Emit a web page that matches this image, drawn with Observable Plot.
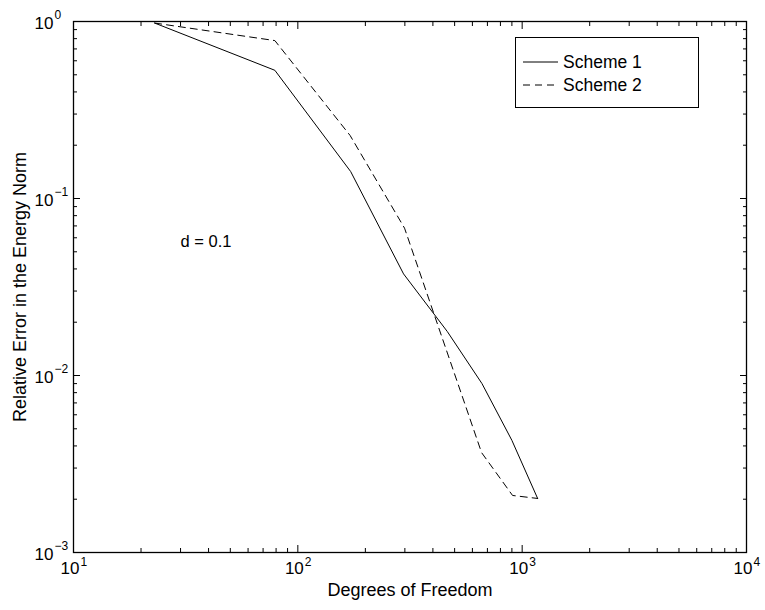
<!DOCTYPE html>
<html>
<head>
<meta charset="utf-8">
<script src="https://cdn.jsdelivr.net/npm/d3@7"></script>
<script src="https://cdn.jsdelivr.net/npm/@observablehq/plot@0.6"></script>
<style>
  html, body { margin: 0; padding: 0; background: #fff; }
  #wrap { position: relative; width: 765px; height: 610px; font-family: "Liberation Sans", Arial, Helvetica, sans-serif; }
  #legend {
    position: absolute; left: 515px; top: 37px; width: 182px; height: 69px;
    border: 1px solid #000; background: #fff; font-size: 17.5px; color: #000;
  }
  #legend .row { position: absolute; left: 7px; height: 20px; display: flex; align-items: center; }
  #legend .row span { margin-left: 5px; }
</style>
</head>
<body>
<div id="wrap"></div>
<script>
// Convergence of the relative energy-norm error against degrees of freedom
const schemeNames = ["Scheme 1", "Scheme 2"];
const scheme1Dof = [23, 79, 172, 296, 464, 662, 900, 1172];
const scheme1Err = [0.98, 0.53, 0.142, 0.0375, 0.0177, 0.0090, 0.0043, 0.00202];
const scheme2Dof = [23, 79, 171, 299, 659, 906, 1172];
const scheme2Err = [0.98, 0.78, 0.227, 0.068, 0.00367, 0.00210, 0.00202];

const xMajor = [10, 100, 1000, 10000];
const xExp = ["1", "2", "3", "4"];
const yMajor = [0.001, 0.01, 0.1, 1];
const yExp = ["\u22123", "\u22122", "\u22121", "0"];
const xLabel = "Degrees of Freedom";
const yLabel = "Relative Error in the Energy Norm";
const note = "d = 0.1";

// minor ticks at 2..9 × each decade
const minorOf = (decades) => decades.flatMap(d => d3.range(2, 10).map(k => k * d));
const xMinor = minorOf([10, 100, 1000]);
const yMinor = minorOf([0.001, 0.01, 0.1]);

const series1 = scheme1Dof.map((x, i) => ({x, y: scheme1Err[i]}));
const series2 = scheme2Dof.map((x, i) => ({x, y: scheme2Err[i]}));

const font = "'Liberation Sans', Arial, Helvetica, sans-serif";
const blank = () => "";

// inward-pointing ticks on every side of the box
const tickMarks = [];
for (const anchor of ["bottom", "top"]) {
  tickMarks.push(Plot.axisX(xMajor, {anchor, tickSize: -7, tickFormat: blank, label: null, stroke: "#000"}));
  tickMarks.push(Plot.axisX(xMinor, {anchor, tickSize: -4, tickFormat: blank, label: null, stroke: "#000"}));
}
for (const anchor of ["left", "right"]) {
  tickMarks.push(Plot.axisY(yMajor, {anchor, tickSize: -7, tickFormat: blank, label: null, stroke: "#000"}));
  tickMarks.push(Plot.axisY(yMinor, {anchor, tickSize: -4, tickFormat: blank, label: null, stroke: "#000"}));
}

const chart = Plot.plot({
  width: 765,
  height: 610,
  marginLeft: 73,
  marginRight: 19,
  marginTop: 21,
  marginBottom: 58,
  style: {fontFamily: font, background: "#fff", color: "#000"},
  x: {type: "log", domain: [10, 10000]},
  y: {type: "log", domain: [0.001, 1]},
  marks: [
    ...tickMarks,
    Plot.frame({stroke: "#000", strokeWidth: 1.3}),
    Plot.line(series1, {x: "x", y: "y", stroke: "#000", strokeWidth: 1}),
    Plot.line(series2, {x: "x", y: "y", stroke: "#000", strokeWidth: 1, strokeDasharray: "7,5"}),
    // x tick labels: 10 with superscript exponent
    Plot.text(xMajor, {x: d => d, frameAnchor: "bottom", text: () => "10", textAnchor: "end", dx: 6, dy: 21, fontSize: 17, fill: "#000"}),
    Plot.text(xMajor, {x: d => d, frameAnchor: "bottom", text: (d, i) => xExp[i], textAnchor: "start", dx: 7, dy: 13, fontSize: 12, fill: "#000"}),
    // y tick labels
    Plot.text(yMajor, {y: d => d, frameAnchor: "left", text: () => "10", textAnchor: "end", dx: -20, dy: 2, fontSize: 17, fill: "#000"}),
    Plot.text(yMajor, {y: d => d, frameAnchor: "left", text: (d, i) => yExp[i], textAnchor: "start", dx: -19, dy: -6, fontSize: 12, fill: "#000"}),
    // axis titles
    Plot.text([xLabel], {frameAnchor: "bottom", text: d => d, textAnchor: "middle", dy: 43, fontSize: 18, fill: "#000"}),
    Plot.text([yLabel], {frameAnchor: "left", text: d => d, textAnchor: "middle", rotate: -90, dx: -53, fontSize: 18, fill: "#000"}),
    // annotation
    Plot.text([note], {x: () => 30, y: () => 0.057, text: d => d, textAnchor: "start", fontSize: 16.5, fill: "#000"})
  ]
});

const wrap = document.getElementById("wrap");
wrap.appendChild(chart);

// legend box inside the axes
const legend = document.createElement("div");
legend.id = "legend";
const dashes = ["", "7,5"];
schemeNames.forEach((name, i) => {
  const row = document.createElement("div");
  row.className = "row";
  row.style.top = (14 + i * 23) + "px";
  row.innerHTML = `<svg width="35" height="4"><line x1="0" y1="2" x2="35" y2="2" stroke="#000" stroke-width="1" stroke-dasharray="${dashes[i]}"/></svg><span>${name}</span>`;
  legend.appendChild(row);
});
wrap.appendChild(legend);
</script>
</body>
</html>
